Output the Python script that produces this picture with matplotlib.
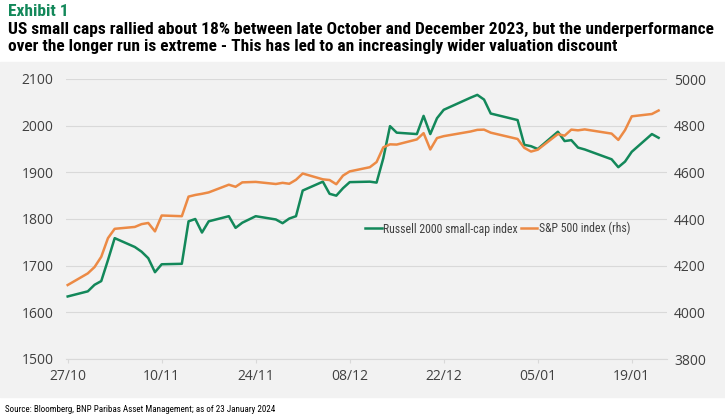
import matplotlib
matplotlib.use("Agg")
import matplotlib.pyplot as plt
import matplotlib.dates as mdates
from matplotlib import font_manager
import pandas as pd


def pick_font(names):
    for n in names:
        try:
            font_manager.findfont(n, fallback_to_default=False)
            return n
        except Exception:
            pass
    return "DejaVu Sans"


narrow = pick_font(["Liberation Sans Narrow", "Roboto Condensed", "Open Sans Condensed", "Roboto"])
regular = pick_font(["Open Sans", "Liberation Sans"])

dates = ["2023-10-27", "2023-10-30", "2023-10-31", "2023-11-01", "2023-11-02", "2023-11-03",
         "2023-11-06", "2023-11-07", "2023-11-08", "2023-11-09", "2023-11-10",
         "2023-11-13", "2023-11-14", "2023-11-15", "2023-11-16", "2023-11-17",
         "2023-11-20", "2023-11-21", "2023-11-22", "2023-11-24",
         "2023-11-27", "2023-11-28", "2023-11-29", "2023-11-30", "2023-12-01",
         "2023-12-04", "2023-12-05", "2023-12-06", "2023-12-07", "2023-12-08",
         "2023-12-11", "2023-12-12", "2023-12-13", "2023-12-14", "2023-12-15",
         "2023-12-18", "2023-12-19", "2023-12-20", "2023-12-21", "2023-12-22",
         "2023-12-26", "2023-12-27", "2023-12-28", "2023-12-29",
         "2024-01-02", "2024-01-03", "2024-01-04", "2024-01-05",
         "2024-01-08", "2024-01-09", "2024-01-10", "2024-01-11", "2024-01-12",
         "2024-01-16", "2024-01-17", "2024-01-18", "2024-01-19",
         "2024-01-22", "2024-01-23"]

russell = [1634, 1645, 1659, 1667, 1712, 1759,
           1740, 1730, 1716, 1686, 1703,
           1704, 1795, 1800, 1771, 1795,
           1806, 1781, 1792, 1806,
           1799, 1791, 1801, 1806, 1861,
           1880, 1854, 1850, 1866, 1879,
           1880, 1878, 1930, 1999, 1985,
           1982, 2021, 1982, 2016, 2034,
           2060, 2066, 2056, 2026,
           2012, 1959, 1956, 1950,
           1987, 1967, 1969, 1953, 1949,
           1928, 1911, 1923, 1944,
           1982, 1974]

spx = [4117, 4167, 4194, 4238, 4318, 4358,
       4366, 4378, 4383, 4347, 4415,
       4412, 4496, 4503, 4508, 4514,
       4547, 4538, 4557, 4559,
       4550, 4555, 4551, 4568, 4595,
       4570, 4567, 4549, 4586, 4604,
       4622, 4644, 4707, 4720, 4719,
       4741, 4768, 4698, 4747, 4755,
       4775, 4782, 4783, 4770,
       4743, 4705, 4689, 4697,
       4764, 4757, 4783, 4780, 4784,
       4766, 4739, 4781, 4840,
       4850, 4865]

x_ticks = ["2023-10-27", "2023-11-10", "2023-11-24", "2023-12-08",
           "2023-12-22", "2024-01-05", "2024-01-19"]

green = "#13885a"
orange = "#ec8a45"
txt = "#404040"

x = pd.to_datetime(dates)

fig = plt.figure(figsize=(7.25, 4.19), dpi=100)
fig.patch.set_facecolor("white")
# grey panel behind the chart
panel = plt.Rectangle((0, 1 - 397 / 419), 1, (397 - 62) / 419,
                      transform=fig.transFigure, color="#f2f2f2", zorder=-10)
fig.add_artist(panel)

ax = fig.add_axes([66 / 725, 1 - 359 / 419, (667 - 66) / 725, 280 / 419])
ax.set_facecolor("none")
ax2 = ax.twinx()
ax2.set_facecolor("none")

l1, = ax.plot(x, russell, color=green, lw=1.8, label="Russell 2000 small-cap index", zorder=3)
l2, = ax2.plot(x, spx, color=orange, lw=1.8, label="S&P 500 index (rhs)", zorder=3)

ax.set_ylim(1500, 2100)
ax.set_yticks(range(1500, 2101, 100))
ax2.set_ylim(3800, 5000)
ax2.set_yticks(range(3800, 5001, 200))
ax.set_xlim(pd.Timestamp("2023-10-26 18:00"), pd.Timestamp("2024-01-24 06:00"))
ax.set_xticks(pd.to_datetime(x_ticks))
ax.xaxis.set_major_formatter(mdates.DateFormatter("%d/%m"))

ax.grid(axis="y", color="#d9d9d9", lw=0.8)
ax.set_axisbelow(True)
for a in (ax, ax2):
    for s in a.spines.values():
        s.set_visible(False)
ax.spines["bottom"].set_visible(True)
ax.spines["bottom"].set_color("#d9d9d9")
ax.tick_params(axis="x", length=3, color="#d9d9d9", labelsize=10, labelcolor=txt, pad=4)
ax.tick_params(axis="y", length=0, labelsize=10, labelcolor=txt, pad=9)
ax2.tick_params(axis="y", length=0, labelsize=10, labelcolor=txt, pad=5)
for lab in ax.get_xticklabels() + ax.get_yticklabels() + ax2.get_yticklabels():
    lab.set_fontfamily(regular)

leg = ax.legend(handles=[l1, l2], loc="center", bbox_to_anchor=(0.718, 0.465), ncol=2,
                frameon=False, handlelength=1.4, handletextpad=0.1, columnspacing=0.3,
                prop={"family": narrow, "size": 8.5})
for t in leg.get_texts():
    t.set_color(txt)

fig.text(8 / 725, 1 - 12 / 419, "Exhibit 1", color=green, fontsize=12.5, fontweight="bold",
         family=narrow, va="center")
fig.text(8 / 725, 1 - 29 / 419,
         "US small caps rallied about 18% between late October and December 2023, but the underperformance",
         color="black", fontsize=12.5, fontweight="bold", family=narrow, va="center")
fig.text(8 / 725, 1 - 47 / 419,
         "over the longer run is extreme - This has led to an increasingly wider valuation discount",
         color="black", fontsize=12.5, fontweight="bold", family=narrow, va="center")
fig.text(5 / 725, 1 - 409 / 419, "Source: Bloomberg, BNP Paribas Asset Management; as of 23 January 2024",
         color="black", fontsize=6.5, family=narrow, va="center")

fig.savefig("out.png", dpi=100)
